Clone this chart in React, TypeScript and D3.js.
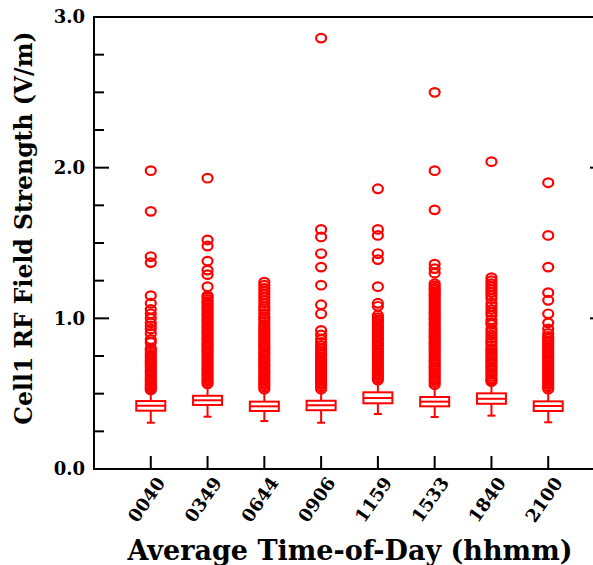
import React, { useEffect, useRef } from 'react';
import * as d3 from 'd3';

// Time-of-day categories (hhmm)
const categories = ['0040', '0349', '0644', '0906', '1159', '1533', '1840', '2100'];

// box statistics (V/m)
const lowerWhisker = [0.307, 0.347, 0.318, 0.307, 0.365, 0.345, 0.354, 0.31];
const q1 = [0.387, 0.425, 0.385, 0.39, 0.436, 0.416, 0.433, 0.385];
const medians = [0.42, 0.456, 0.416, 0.423, 0.471, 0.447, 0.466, 0.418];
const q3 = [0.451, 0.486, 0.447, 0.453, 0.509, 0.478, 0.502, 0.449];
const upperWhisker = [0.52, 0.557, 0.52, 0.524, 0.584, 0.553, 0.575, 0.52];

// outliers per category
const out0040 = [1.98, 1.71, 1.41, 1.37, 1.15, 1.1, 1.06, 1.03, 1.0, 0.97, 0.95, 0.93, 0.9, 0.86, 0.84,
  0.8, 0.79, 0.775, 0.76, 0.75, 0.735, 0.72, 0.71, 0.7, 0.69, 0.675, 0.66, 0.65, 0.64, 0.625, 0.61, 0.6,
  0.59, 0.58, 0.565, 0.555, 0.545, 0.535, 0.525];
const out0349 = [1.93, 1.52, 1.48, 1.38, 1.32, 1.29, 1.21, 1.15, 1.14, 1.125, 1.11, 1.1, 1.085, 1.07,
  1.06, 1.045, 1.03, 1.02, 1.005, 0.99, 0.98, 0.965, 0.95, 0.94, 0.925, 0.91, 0.9, 0.885, 0.87, 0.86,
  0.845, 0.83, 0.82, 0.805, 0.79, 0.78, 0.765, 0.75, 0.74, 0.725, 0.71, 0.7, 0.685, 0.67, 0.66, 0.645,
  0.63, 0.62, 0.605, 0.59, 0.58, 0.565];
const out0644 = [1.24, 1.22, 1.2, 1.18, 1.16, 1.14, 1.12, 1.1, 1.08, 1.065, 1.05, 1.03, 1.01, 0.995,
  0.98, 0.96, 0.945, 0.93, 0.915, 0.9, 0.885, 0.87, 0.855, 0.84, 0.825, 0.81, 0.8, 0.785, 0.77, 0.76,
  0.745, 0.73, 0.72, 0.705, 0.69, 0.68, 0.665, 0.65, 0.64, 0.625, 0.61, 0.6, 0.585, 0.57, 0.56, 0.545, 0.53];
const out0906 = [2.86, 1.59, 1.54, 1.43, 1.34, 1.22, 1.09, 1.03, 0.92, 0.89, 0.86, 0.84, 0.82, 0.8,
  0.785, 0.77, 0.76, 0.745, 0.73, 0.72, 0.705, 0.69, 0.68, 0.665, 0.65, 0.64, 0.625, 0.61, 0.6, 0.585,
  0.57, 0.56, 0.545, 0.53];
const out1159 = [1.86, 1.59, 1.55, 1.43, 1.39, 1.21, 1.1, 1.08, 1.02, 1.005, 0.99, 0.98, 0.965, 0.95,
  0.94, 0.925, 0.91, 0.9, 0.885, 0.87, 0.86, 0.845, 0.83, 0.82, 0.805, 0.79, 0.78, 0.765, 0.75, 0.74,
  0.725, 0.71, 0.7, 0.685, 0.67, 0.66, 0.645, 0.63, 0.62, 0.605, 0.59];
const out1533 = [2.5, 1.98, 1.72, 1.36, 1.33, 1.3, 1.23, 1.215, 1.2, 1.19, 1.175, 1.16, 1.15, 1.135,
  1.12, 1.11, 1.095, 1.08, 1.07, 1.055, 1.04, 1.03, 1.015, 1.0, 0.99, 0.975, 0.96, 0.95, 0.935, 0.92,
  0.91, 0.895, 0.88, 0.87, 0.855, 0.84, 0.83, 0.815, 0.8, 0.79, 0.775, 0.76, 0.75, 0.735, 0.72, 0.71,
  0.695, 0.68, 0.67, 0.655, 0.64, 0.63, 0.615, 0.6, 0.59, 0.575, 0.56];
const out1840 = [2.04, 1.27, 1.25, 1.23, 1.21, 1.19, 1.17, 1.15, 1.13, 1.1, 1.08, 1.06, 1.04, 1.02,
  0.99, 0.97, 0.96, 0.93, 0.91, 0.89, 0.87, 0.85, 0.84, 0.82, 0.8, 0.79, 0.775, 0.76, 0.75, 0.735,
  0.72, 0.71, 0.695, 0.68, 0.67, 0.655, 0.64, 0.63, 0.615, 0.6, 0.59, 0.58];
const out2100 = [1.9, 1.55, 1.34, 1.17, 1.12, 1.03, 0.97, 0.93, 0.9, 0.88, 0.865, 0.85, 0.84, 0.825,
  0.81, 0.8, 0.785, 0.77, 0.76, 0.745, 0.73, 0.72, 0.705, 0.69, 0.68, 0.665, 0.65, 0.64, 0.625, 0.61,
  0.6, 0.585, 0.57, 0.56, 0.545, 0.53];
const outliers = [out0040, out0349, out0644, out0906, out1159, out1533, out1840, out2100];

const yMajor = [0, 1, 2, 3];
const yMinor = [0.25, 0.5, 0.75, 1.25, 1.5, 1.75, 2.25, 2.5, 2.75];

const FONT = '"DejaVu Serif", serif';
const RED = '#ff0000';

function BoxChart() {
  const ref = useRef(null);

  useEffect(() => {
    const W = 593, H = 565;
    const left = 94, right = 605, top = 17, bottom = 469;

    const svg = d3.select(ref.current).html('')
      .append('svg')
      .attr('width', W)
      .attr('height', H)
      .style('position', 'absolute')
      .style('left', '0px')
      .style('top', '0px')
      .style('background', '#fff');

    const x = d3.scalePoint().domain(categories).range([left, right]).padding(1);
    const y = d3.scaleLinear().domain([0, 3]).range([bottom, top]);

    // frame (right side falls just outside the picture)
    svg.append('rect')
      .attr('x', left).attr('y', top)
      .attr('width', right - left).attr('height', bottom - top)
      .attr('fill', 'none').attr('stroke', '#000').attr('stroke-width', 2);

    // ticks, all pointing inward
    const g = svg.append('g').attr('stroke', '#000').attr('stroke-width', 2);
    yMajor.forEach(v => {
      g.append('line').attr('x1', left).attr('x2', left + 15).attr('y1', y(v)).attr('y2', y(v));
      g.append('line').attr('x1', right - 15).attr('x2', right).attr('y1', y(v)).attr('y2', y(v));
    });
    yMinor.forEach(v => {
      g.append('line').attr('x1', left).attr('x2', left + 10).attr('y1', y(v)).attr('y2', y(v));
      g.append('line').attr('x1', right - 10).attr('x2', right).attr('y1', y(v)).attr('y2', y(v));
    });
    categories.forEach(c => {
      g.append('line').attr('x1', x(c)).attr('x2', x(c)).attr('y1', bottom).attr('y2', bottom - 13);
    });

    // y tick labels
    svg.append('g').selectAll('text').data(yMajor).join('text')
      .attr('x', 85).attr('y', d => y(d)).attr('dy', '0.35em')
      .attr('text-anchor', 'end')
      .attr('font-family', FONT).attr('font-weight', 'bold').attr('font-size', 18)
      .text(d => d.toFixed(1));

    // x tick labels, rotated
    svg.append('g').selectAll('text').data(categories).join('text')
      .attr('transform', d => `translate(${x(d) + 10},${bottom + 10}) rotate(-55)`)
      .attr('dy', '0.35em')
      .attr('text-anchor', 'end')
      .attr('font-family', FONT).attr('font-weight', 'bold').attr('font-size', 18)
      .text(d => d);

    // axis titles
    svg.append('text')
      .attr('x', 350).attr('y', 560)
      .attr('text-anchor', 'middle')
      .attr('font-family', FONT).attr('font-weight', 'bold').attr('font-size', 27)
      .text('Average Time-of-Day (hhmm)');
    svg.append('text')
      .attr('transform', `translate(32,228) rotate(-90)`)
      .attr('text-anchor', 'middle')
      .attr('font-family', FONT).attr('font-weight', 'bold').attr('font-size', 23.5)
      .text('Cell1 RF Field Strength (V/m)');

    // boxes, whiskers and outliers
    const bw = 29;
    const boxes = svg.append('g').attr('stroke', RED).attr('stroke-width', 2).attr('fill', 'none');
    categories.forEach((c, i) => {
      const cx = x(c);
      boxes.append('line').attr('x1', cx).attr('x2', cx).attr('y1', y(q1[i])).attr('y2', y(lowerWhisker[i]));
      boxes.append('line').attr('x1', cx - 4).attr('x2', cx + 4).attr('y1', y(lowerWhisker[i])).attr('y2', y(lowerWhisker[i]));
      boxes.append('line').attr('x1', cx).attr('x2', cx).attr('y1', y(q3[i])).attr('y2', y(upperWhisker[i]));
      boxes.append('rect')
        .attr('x', cx - bw / 2).attr('y', y(q3[i]))
        .attr('width', bw).attr('height', y(q1[i]) - y(q3[i]))
        .attr('fill', '#fff');
      boxes.append('line').attr('x1', cx - bw / 2).attr('x2', cx + bw / 2).attr('y1', y(medians[i])).attr('y2', y(medians[i]));

      boxes.append('g').selectAll('ellipse').data(outliers[i]).join('ellipse')
        .attr('cx', cx).attr('cy', d => y(d))
        .attr('rx', 5).attr('ry', 4.3)
        .attr('stroke-width', 2.2);
    });
  }, []);

  return <div ref={ref}></div>;
}

export default function App() {
  return <BoxChart />;
}
